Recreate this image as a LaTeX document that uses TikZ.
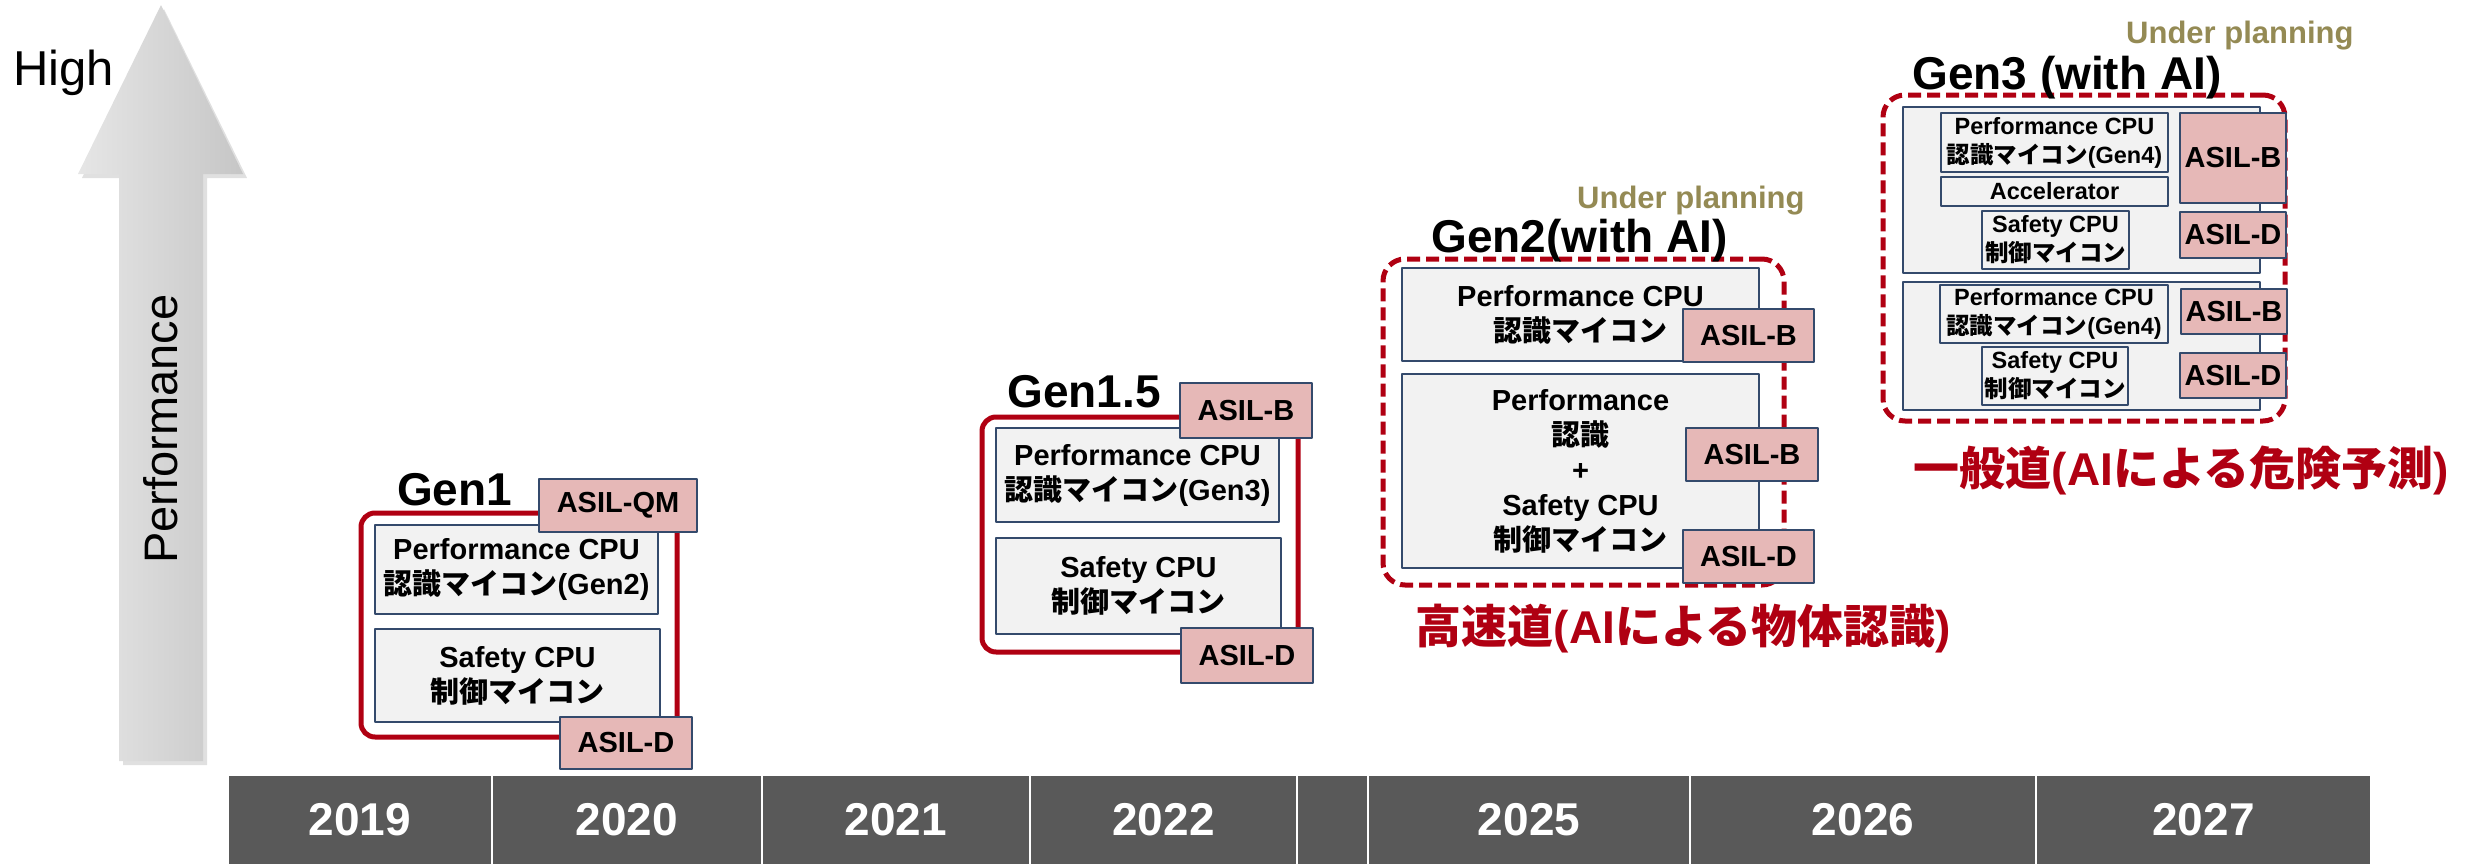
\documentclass[tikz,border=0pt]{standalone}
\usepackage{fontspec}
\setmainfont{Liberation Sans}
\newfontfamily\jpfont{Noto Sans CJK JP}
\newcommand{\jp}[1]{{\jpfont #1}}
\definecolor{genred}{RGB}{176,0,18}
\definecolor{boxline}{RGB}{52,74,108}
\definecolor{boxgray}{RGB}{242,242,242}
\definecolor{asilpink}{RGB}{230,184,183}
\definecolor{bargray}{RGB}{89,89,89}
\definecolor{planolive}{RGB}{148,138,84}
\tikzset{
  genbox/.style={draw=genred, line width=5pt, rounded corners=14pt},
  planbox/.style={genbox, dash pattern=on 13pt off 6pt, rounded corners=22pt},
  cpu/.style={draw=boxline, fill=boxgray, line width=1.8pt, inner sep=0, align=center,
    font=\fontsize{29}{35}\selectfont\bfseries},
  cpusmall/.style={cpu, font=\fontsize{23.5}{29}\selectfont\bfseries},
  asil/.style={draw=boxline, fill=asilpink, line width=1.8pt, inner sep=0,
    font=\fontsize{29}{33}\selectfont\bfseries},
  genlabel/.style={anchor=base west, inner sep=0, font=\fontsize{46}{50}\selectfont\bfseries},
  planlabel/.style={anchor=base west, inner sep=0, text=planolive,
    font=\fontsize{31}{35}\selectfont\bfseries},
  roadlabel/.style={inner sep=0, text=genred, font=\fontsize{46}{50}\selectfont\bfseries},
  yearcell/.style={fill=bargray, draw=white, line width=2.5pt, text=white, inner sep=0,
    minimum height=90, font=\fontsize{46}{50}\selectfont\bfseries}
}
\begin{document}
\begin{tikzpicture}[x=1pt, y=-1pt, line join=round]
  \useasboundingbox (0,0) rectangle (2465,865);
  % Performance arrow
  \fill[black!12] (164,9)--(247,178)--(207,178)--(207,765)--(123,765)--(123,178)--(82,178)--cycle;
  \shade[left color={rgb,255:red,230;green,230;blue,230}, right color={rgb,255:red,198;green,198;blue,198}]
    (161,5)--(243,174)--(203,174)--(203,761)--(119,761)--(119,174)--(78,174)--cycle;
  \node[anchor=base west, inner sep=0, font=\fontsize{49}{55}\selectfont] (high) at (13,85) {High};
  \node[rotate=90, inner sep=0, font=\fontsize{47}{52}\selectfont] (perf) at (161,429) {Performance};

  % timeline
  \foreach \l/\r/\yr/\nm in {228/492/2019/y2019, 492/762/2020/y2020, 762/1030/2021/y2021,
      1030/1297/2022/y2022, 1297/1368//ygap, 1368/1690/2025/y2025, 1690/2036/2026/y2026,
      2036/2371/2027/y2027}
    \node[yearcell, minimum width=\r-\l] (\nm) at ({(\l+\r)/2},820) {\yr};

  % Gen1
  \node[genbox, minimum width=316, minimum height=224] (gen1) at (519,625) {};
  \node[genlabel] (gen1lbl) at (397,505) {Gen1};
  \node[cpu, minimum width=283, minimum height=89] (perf1) at (516.5,569.5)
    {Performance CPU\\\jp{認識マイコン}(Gen2)};
  \node[cpu, minimum width=285, minimum height=93] (safe1) at (517.5,675.5)
    {Safety CPU\\\jp{制御マイコン}};
  \node[asil, minimum width=158, minimum height=53] (qm1) at (618,505.5) {ASIL-QM};
  \node[asil, minimum width=132, minimum height=52] (d1) at (626,743) {ASIL-D};

  % Gen1.5
  \node[genbox, minimum width=316, minimum height=235] (gen15) at (1140,534.5) {};
  \node[genlabel] (gen15lbl) at (1007,407) {Gen1.5};
  \node[cpu, minimum width=283, minimum height=94] (perf15) at (1137.5,475)
    {Performance CPU\\\jp{認識マイコン}(Gen3)};
  \node[cpu, minimum width=285, minimum height=96] (safe15) at (1138.5,586)
    {Safety CPU\\\jp{制御マイコン}};
  \node[asil, minimum width=132, minimum height=55] (b15) at (1246,410.5) {ASIL-B};
  \node[asil, minimum width=132, minimum height=55] (d15) at (1247,655.5) {ASIL-D};

  % Gen2
  \node[planbox, minimum width=401, minimum height=326] (gen2) at (1583.5,422) {};
  \node[planlabel] (plan2) at (1577,208) {Under planning};
  \node[genlabel] (gen2lbl) at (1431,252) {Gen2(with AI)};
  \node[cpu, minimum width=357, minimum height=93] (perf2) at (1580.5,314.5)
    {Performance CPU\\\jp{認識マイコン}};
  \node[cpu, minimum width=357, minimum height=194] (mix2) at (1580.5,471)
    {Performance\\\jp{認識}\\+\\Safety CPU\\\jp{制御マイコン}};
  \node[asil, minimum width=131, minimum height=53] (b2a) at (1748.5,335.5) {ASIL-B};
  \node[asil, minimum width=132, minimum height=53] (b2b) at (1752,454.5) {ASIL-B};
  \node[asil, minimum width=131, minimum height=53] (d2) at (1748.5,556.5) {ASIL-D};
  \node[roadlabel] (road2) at (1683.5,629) {\jp{高速道}(AI\jp{による物体認識})};

  % Gen3
  \node[planbox, minimum width=402, minimum height=326] (gen3) at (2084,258) {};
  \node[planlabel] (plan3) at (2126,43) {Under planning};
  \node[genlabel] (gen3lbl) at (1912,89) {Gen3 (with AI)};
  \node[cpu, minimum width=357, minimum height=166] (ecu3a) at (2081.5,190) {};
  \node[cpusmall, minimum width=227, minimum height=59] (perf3a) at (2054.5,142.5)
    {Performance CPU\\\jp{認識マイコン}(Gen4)};
  \node[cpusmall, minimum width=227, minimum height=29] (acc3) at (2054.5,191.5) {Accelerator};
  \node[cpusmall, minimum width=147, minimum height=58] (safe3a) at (2055.5,240)
    {Safety CPU\\\jp{制御マイコン}};
  \node[asil, minimum width=106, minimum height=90] (b3a) at (2233,158) {ASIL-B};
  \node[asil, minimum width=106, minimum height=46] (d3a) at (2233,235) {ASIL-D};
  \node[cpu, minimum width=357, minimum height=128] (ecu3b) at (2081.5,346) {};
  \node[cpusmall, minimum width=228, minimum height=58] (perf3b) at (2054,314)
    {Performance CPU\\\jp{認識マイコン}(Gen4)};
  \node[cpusmall, minimum width=146, minimum height=58] (safe3b) at (2055,376)
    {Safety CPU\\\jp{制御マイコン}};
  \node[asil, minimum width=106, minimum height=45] (b3b) at (2234,311.5) {ASIL-B};
  \node[asil, minimum width=106, minimum height=45] (d3b) at (2233,375.5) {ASIL-D};
  \node[roadlabel] (road3) at (2181.5,470) {\jp{一般道}(AI\jp{による危険予測})};
\end{tikzpicture}
\end{document}
